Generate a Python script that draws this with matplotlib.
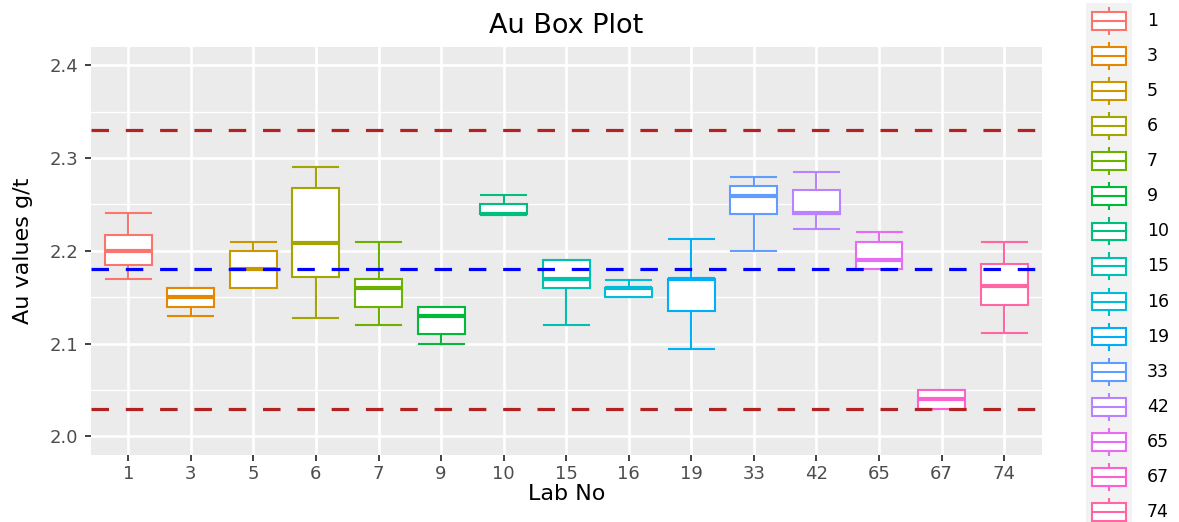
import matplotlib
matplotlib.use("Agg")
import matplotlib.pyplot as plt
from matplotlib.patches import Rectangle

plt.rcParams['font.family'] = ['DejaVu Sans']
plt.rcParams['lines.scale_dashes'] = False

# ---- data ----
labs = ['1', '3', '5', '6', '7', '9', '10', '15', '16', '19', '33', '42', '65', '67', '74']
whislo = [2.170, 2.130, 2.160, 2.128, 2.120, 2.100, 2.240, 2.120, 2.150, 2.094, 2.200, 2.224, 2.180, 2.030, 2.112]
q1 = [2.185, 2.140, 2.160, 2.172, 2.140, 2.110, 2.240, 2.160, 2.150, 2.135, 2.240, 2.240, 2.180, 2.030, 2.142]
med = [2.200, 2.150, 2.180, 2.208, 2.160, 2.130, 2.240, 2.170, 2.160, 2.170, 2.259, 2.241, 2.190, 2.040, 2.162]
q3 = [2.217, 2.160, 2.200, 2.268, 2.170, 2.140, 2.250, 2.190, 2.160, 2.170, 2.270, 2.266, 2.210, 2.050, 2.186]
whishi = [2.241, 2.160, 2.210, 2.290, 2.210, 2.140, 2.260, 2.190, 2.169, 2.213, 2.280, 2.285, 2.220, 2.050, 2.210]
limit_lines = [2.33, 2.03]
center_line = 2.18
yticks = [2.0, 2.1, 2.2, 2.3, 2.4]
yticklabels = ['2.0', '2.1', '2.2', '2.3', '2.4']
colors = ["#F8766D", "#E58700", "#C99800", "#A3A500", "#6BB100", "#00BA38", "#00BF7D",
          "#00C0AF", "#00BCD8", "#00B0F6", "#619CFF", "#B983FF", "#E76BF3", "#FD61D1", "#FF67A4"]

W, H = 1179, 522
fig = plt.figure(figsize=(W / 100, H / 100), dpi=100)
fig.patch.set_facecolor('white')

pl, pr, pt, pb = 90.7, 1041.7, 46.7, 455.0
ax = fig.add_axes([pl / W, 1 - pb / H, (pr - pl) / W, (pb - pt) / H])
ax.set_facecolor('#EBEBEB')
for s in ax.spines.values():
    s.set_visible(False)

n = len(labs)
pos = list(range(1, n + 1))
stats = []
for i in range(n):
    stats.append(dict(label=labs[i], whislo=whislo[i], q1=q1[i], med=med[i],
                      q3=q3[i], whishi=whishi[i], fliers=[]))

bp = ax.bxp(stats, positions=pos, widths=0.75, capwidths=0.72, patch_artist=True,
            showfliers=False, manage_ticks=False, zorder=3)
lw = 1.5
for i in range(n):
    c = colors[i]
    box = bp['boxes'][i]
    box.set_facecolor('white')
    box.set_edgecolor(c)
    box.set_linewidth(lw)
    box.set_zorder(4)
    bp['medians'][i].set_color(c)
    bp['medians'][i].set_linewidth(lw * 2)
    bp['medians'][i].set_zorder(5)
    for j in (2 * i, 2 * i + 1):
        bp['whiskers'][j].set_color(c)
        bp['whiskers'][j].set_linewidth(lw)
        bp['whiskers'][j].set_zorder(3)
        bp['caps'][j].set_color(c)
        bp['caps'][j].set_linewidth(lw)
        bp['caps'][j].set_zorder(3)

dash = (12.6, 12.1)
for v in limit_lines:
    ax.axhline(v, color='#B22222', linewidth=2.3, dashes=dash, zorder=6)
ax.axhline(center_line, color='#0000FF', linewidth=2.3, dashes=dash, zorder=6)

ax.set_xlim(0.4, n + 0.6)
ax.set_ylim(1.98, 2.42)
ax.set_xticks(pos)
ax.set_xticklabels(labs)
ax.set_yticks(yticks)
ax.set_yticklabels(yticklabels)
ax.set_yticks([2.05, 2.15, 2.25, 2.35], minor=True)
ax.grid(True, which='major', color='white', linewidth=1.9, zorder=1)
ax.grid(True, which='minor', axis='y', color='white', linewidth=1.0, zorder=1)
ax.set_axisbelow(True)
ax.tick_params(axis='both', which='major', colors='#333333', labelcolor='#4D4D4D',
               labelsize=13, length=4.5, width=1.3)
ax.tick_params(axis='y', which='major', pad=4.5)
ax.tick_params(axis='x', which='major', pad=2.5)
ax.tick_params(axis='y', which='minor', length=0)

ax.set_title('Au Box Plot', fontsize=19.5, color='black', pad=10)
ax.set_xlabel('Lab No', fontsize=16, color='black')
ax.set_ylabel('Au values g/t', fontsize=16, color='black')
ax.xaxis.set_label_coords(0.5, -(484 - pb) / (pb - pt))
ax.yaxis.set_label_coords(-(pl - 33) / (pr - pl), 0.5)

# ---- legend (drawn in pixel coordinates) ----
lg = fig.add_axes([0, 0, 1, 1], zorder=10)
lg.set_xlim(0, W)
lg.set_ylim(H, 0)
lg.axis('off')
lg.patch.set_alpha(0)
kx0, kx1 = 1086, 1132
ky0, kh = 3.2, 35.1
lg.add_patch(Rectangle((kx0, ky0), kx1 - kx0, kh * n, facecolor='#F2F2F2', edgecolor='none'))
kw = kx1 - kx0
for i in range(n):
    c = colors[i]
    top = ky0 + i * kh
    cx = (kx0 + kx1) / 2
    bx0 = kx0 + 0.125 * kw
    bx1 = kx0 + 0.875 * kw
    b_top = top + 0.25 * kh
    b_bot = top + 0.75 * kh
    lg.plot([cx, cx], [top + 0.1 * kh, b_top], color=c, linewidth=lw, solid_capstyle='butt')
    lg.plot([cx, cx], [b_bot, top + 0.9 * kh], color=c, linewidth=lw, solid_capstyle='butt')
    lg.add_patch(Rectangle((bx0, b_top), bx1 - bx0, b_bot - b_top, facecolor='white',
                           edgecolor=c, linewidth=lw))
    lg.plot([bx0, bx1], [top + 0.5 * kh, top + 0.5 * kh], color=c, linewidth=lw,
            solid_capstyle='butt')
    lg.text(1147, top + 0.5 * kh, labs[i], fontsize=12.5, color='black', va='center', ha='left')

fig.savefig('out.png', dpi=100)
